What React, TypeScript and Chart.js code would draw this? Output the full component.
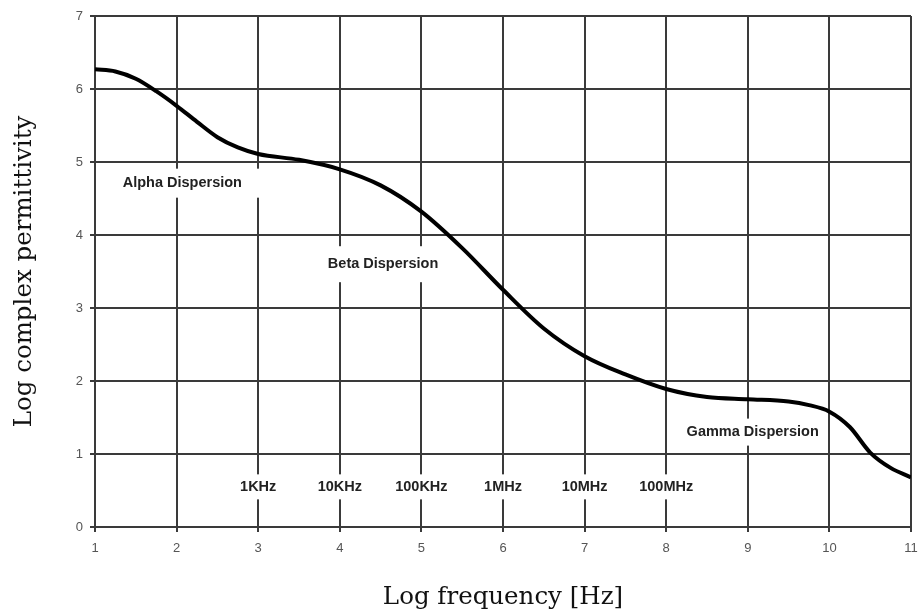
import React, { useEffect, useRef } from "react";
import { Chart, registerables } from "chart.js";

Chart.register(...registerables);

// Log frequency (x) and log complex permittivity (y)
const logFrequency = [1, 1.25, 1.5, 1.75, 2, 2.25, 2.5, 2.75, 3, 3.5, 4, 4.5, 5, 5.5, 6, 6.5, 7, 7.5, 8, 8.5, 9, 9.5, 9.75, 10, 10.25, 10.5, 10.75, 11];
const logPermittivity = [6.27, 6.24, 6.14, 5.97, 5.77, 5.55, 5.34, 5.2, 5.11, 5.03, 4.9, 4.68, 4.32, 3.82, 3.25, 2.72, 2.34, 2.09, 1.89, 1.78, 1.75, 1.72, 1.67, 1.58, 1.37, 1.02, 0.81, 0.68];

const dispersionLabels = ["Alpha Dispersion", "Beta Dispersion", "Gamma Dispersion"];
const frequencyLabels = ["1KHz", "10KHz", "100KHz", "1MHz", "10MHz", "100MHz"];
const frequencyLabelX = [3, 4, 5, 6, 7, 8];

const xTitle = "Log frequency [Hz]";
const yTitle = "Log complex permittivity";

// label anchors in data coordinates (centre x, centre y) with box sizes in px
const dispersionAnchors = [
  { x: 2.07, y: 4.71, h: 29, pad: 44 },
  { x: 4.53, y: 3.6, h: 36, pad: 18 },
  { x: 9.06, y: 1.3, h: 27, pad: 18 },
];
const frequencyLabelY = 0.55;

const labelPlugin = {
  id: "dispLabels",
  beforeDatasetsDraw(chart: any) {
    const ctx = chart.ctx;
    const xs = chart.scales.x;
    const ys = chart.scales.y;
    ctx.save();
    ctx.textAlign = "center";
    ctx.textBaseline = "middle";
    const drawLabel = (text: string, cx: number, cy: number, h: number, pad: number, size: number) => {
      ctx.font = `bold ${size}px "Liberation Sans", Arial, sans-serif`;
      const w = ctx.measureText(text).width + pad;
      ctx.fillStyle = "#ffffff";
      ctx.fillRect(cx - w / 2, cy - h / 2, w, h);
      ctx.fillStyle = "#222222";
      ctx.fillText(text, cx, cy);
    };
    dispersionLabels.forEach((t, i) => {
      const a = dispersionAnchors[i];
      drawLabel(t, xs.getPixelForValue(a.x), ys.getPixelForValue(a.y), a.h, a.pad, 14.5);
    });
    frequencyLabels.forEach((t, i) => {
      drawLabel(t, xs.getPixelForValue(frequencyLabelX[i]), ys.getPixelForValue(frequencyLabelY), 25, 18, 14.5);
    });
    ctx.restore();
  },
};

export default function App() {
  const ref = useRef<HTMLCanvasElement>(null);
  useEffect(() => {
    if (!ref.current) return;
    const chart = new Chart(ref.current, {
      type: "line",
      data: {
        datasets: [
          {
            data: logFrequency.map((x, i) => ({ x, y: logPermittivity[i] })),
            borderColor: "#000000",
            borderWidth: 4,
            pointRadius: 0,
            fill: false,
            cubicInterpolationMode: "monotone",
          },
        ],
      },
      options: {
        animation: false,
        responsive: false,
        devicePixelRatio: 1,
        layout: { padding: { top: 16, right: 11, left: 0, bottom: 0 } },
        plugins: { legend: { display: false }, tooltip: { enabled: false } },
        scales: {
          x: {
            type: "linear",
            min: 1,
            max: 11,
            ticks: {
              stepSize: 1,
              color: "#555",
              padding: 9,
              font: { family: '"Liberation Sans", Arial, sans-serif', size: 13 },
            },
            grid: { color: "#3a3a3a", lineWidth: 2, tickLength: 5 },
            border: { color: "#3a3a3a", width: 2 },
            title: {
              display: true,
              text: xTitle,
              color: "#111",
              font: { family: '"DejaVu Serif", serif', size: 24.5 },
              padding: { top: 3, bottom: 3 },
            },
            afterFit: (s: any) => {
              s.height = 88;
              s.paddingLeft = 0;
              s.paddingRight = 0;
            },
          },
          y: {
            min: 0,
            max: 7,
            ticks: {
              stepSize: 1,
              color: "#555",
              padding: 7,
              font: { family: '"Liberation Sans", Arial, sans-serif', size: 13 },
            },
            grid: { color: "#3a3a3a", lineWidth: 2, tickLength: 5 },
            border: { color: "#3a3a3a", width: 2 },
            title: {
              display: true,
              text: yTitle,
              color: "#111",
              font: { family: '"DejaVu Serif", serif', size: 24.5 },
              padding: { top: 10, bottom: 0 },
            },
            afterFit: (s: any) => {
              s.width = 95;
              s.paddingTop = 0;
              s.paddingBottom = 0;
            },
          },
        },
      },
      plugins: [labelPlugin],
    });
    return () => chart.destroy();
  }, []);
  return (
    <div style={{ position: "absolute", left: 0, top: 0, width: 922, height: 615, background: "#fff" }}>
      <canvas ref={ref} width={922} height={615} />
    </div>
  );
}
